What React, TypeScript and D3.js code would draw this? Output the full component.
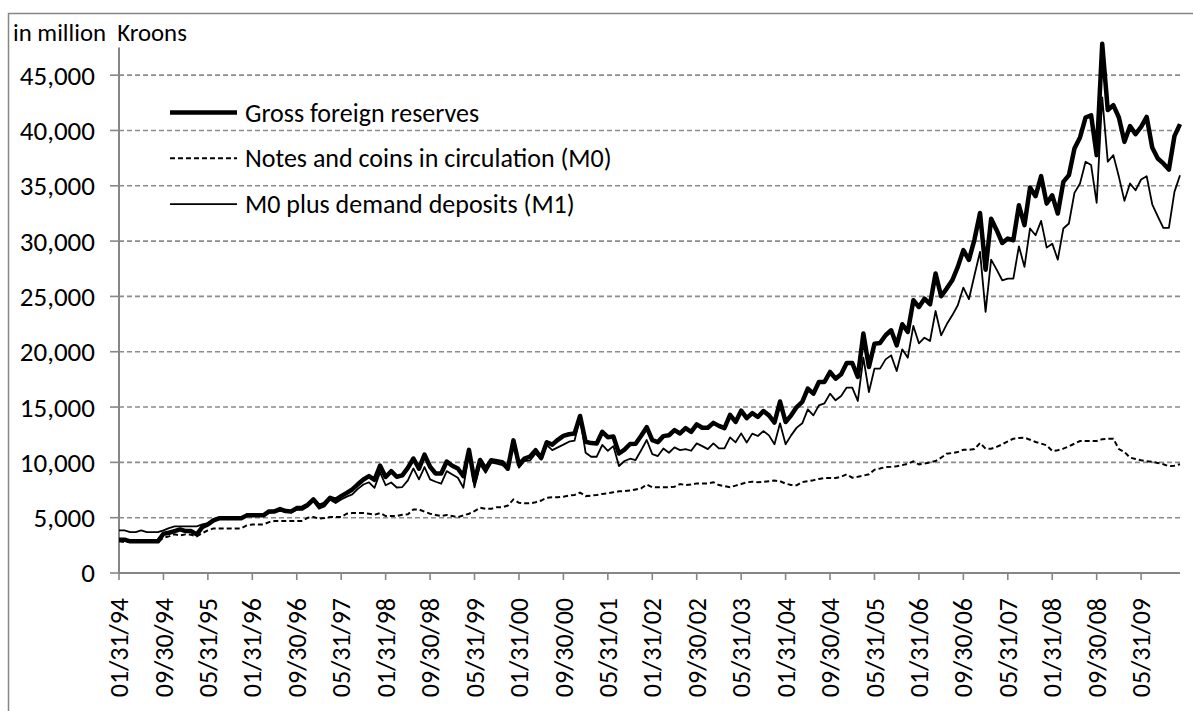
import * as d3 from 'd3';

// monthly, end of month, 01/1994 .. 12/2009 (million kroons)
const grossReserves = [
  3010, 3010, 2860, 2860, 2860, 2860, 2860, 2860, 3550, 3640, 3790, 3940,
  3790, 3790, 3490, 4150, 4390, 4750, 4940, 4940, 4940, 4940, 4940, 5210,
  5210, 5210, 5210, 5570, 5570, 5780, 5600, 5570, 5870, 5900, 6170, 6650,
  6050, 6260, 6800, 6620, 6950, 7240, 7550, 8020, 8450, 8760, 8420, 9700,
  8680, 9200, 8700, 8830, 9500, 10350, 9430, 10700, 9600, 9000, 9000, 10080,
  9700, 9450, 8750, 11130, 8300, 10220, 9400, 10190, 10110, 10020, 9430, 11990,
  9800, 10340, 10530, 11100, 10400, 11820, 11600, 12040, 12400, 12540, 12600, 14190,
  11860, 11740, 11710, 12760, 12280, 12340, 10800, 11150, 11660, 11680, 12400, 13180,
  12010, 11830, 12370, 12450, 12910, 12610, 13090, 12760, 13440, 13130, 13130, 13570,
  13300, 13090, 14300, 13660, 14670, 14000, 14450, 14100, 14640, 14250, 13600, 15500,
  13650, 14250, 15000, 15460, 16660, 16210, 17270, 17270, 18170, 17570, 17960, 18980,
  18980, 17720, 21640, 18620, 20730, 20790, 21490, 21940, 20580, 22480, 21790, 24650,
  24050, 24800, 24290, 27070, 25020, 25710, 26460, 27670, 29180, 28300, 30140, 32540,
  27420, 32030, 30990, 29830, 30230, 30080, 33240, 31440, 34840, 34060, 35870, 33390,
  34140, 32490, 35350, 35960, 38370, 39370, 41170, 41380, 37770, 47830, 41840, 42290,
  41170, 38970, 40390, 39670, 40330, 41230, 38460, 37470, 37020, 36470, 39490, 40570,
];

const notesCoins = [
  2860, 2800, 2800, 2800, 2800, 2800, 2800, 2800, 3190, 3310, 3490, 3400,
  3490, 3460, 3310, 3610, 3850, 4030, 4030, 4030, 4030, 4030, 4030, 4300,
  4390, 4390, 4390, 4600, 4700, 4700, 4700, 4700, 4700, 4700, 5000, 5060,
  4910, 4970, 5060, 5060, 5060, 5360, 5420, 5420, 5420, 5360, 5270, 5420,
  5150, 5150, 5150, 5270, 5300, 5750, 5750, 5540, 5360, 5250, 5150, 5250,
  5150, 5050, 5200, 5360, 5600, 5900, 5800, 5800, 5950, 5950, 6100, 6650,
  6350, 6300, 6300, 6400, 6550, 6800, 6840, 6840, 6900, 7000, 7050, 7270,
  6950, 7000, 7050, 7150, 7200, 7300, 7380, 7400, 7450, 7550, 7650, 8000,
  7740, 7740, 7740, 7750, 7800, 8040, 7950, 8000, 8100, 8100, 8100, 8200,
  7950, 7850, 7750, 7900, 8040, 8200, 8250, 8200, 8250, 8300, 8350, 8300,
  8080, 7950, 7930, 8230, 8300, 8380, 8500, 8590, 8590, 8590, 8700, 8920,
  8620, 8700, 8800, 8920, 9340, 9450, 9580, 9600, 9640, 9750, 9880, 10090,
  9820, 9900, 10000, 10120, 10420, 10780, 10850, 10930, 11140, 11140, 11200, 11750,
  11240, 11240, 11400, 11630, 11900, 12140, 12200, 12230, 12050, 11840, 11700, 11540,
  11030, 11100, 11240, 11450, 11690, 11930, 11930, 11930, 11930, 12100, 12140, 12140,
  11200, 10940, 10430, 10300, 10190, 10100, 10040, 9950, 9830, 9650, 9700, 9830,
];

const m1 = [
  3850, 3850, 3700, 3700, 3850, 3700, 3700, 3700, 3850, 4060, 4210, 4210,
  4210, 4210, 4210, 4390, 4500, 4750, 4870, 4870, 4870, 4870, 4870, 5150,
  5150, 5150, 5150, 5450, 5500, 5660, 5500, 5450, 5720, 5700, 6020, 6500,
  5810, 6020, 6620, 6320, 6650, 6900, 7100, 7600, 8000, 8200, 7700, 9100,
  7930, 8180, 7730, 7770, 8370, 9450, 8460, 9580, 8460, 8250, 8070, 9210,
  8910, 8610, 7710, 10870, 7750, 9820, 9060, 9970, 9880, 9760, 9360, 11770,
  9520, 10120, 10180, 10800, 10250, 11570, 11110, 11350, 11600, 11870, 11960, 14000,
  10870, 10510, 10510, 11570, 11050, 11470, 9670, 10120, 10330, 10210, 11100, 12020,
  10750, 10570, 11260, 10870, 11350, 11110, 11200, 11050, 11720, 11470, 11200, 11720,
  11260, 11260, 12260, 11810, 12620, 11800, 12600, 12380, 12830, 12440, 11630, 13530,
  11630, 12440, 13140, 13530, 14790, 14250, 15150, 15340, 16210, 15610, 16000, 16760,
  16760, 15550, 19460, 16360, 18470, 18470, 19310, 19670, 18260, 20220, 19460, 22330,
  20760, 21270, 20970, 23680, 21480, 22480, 23290, 24200, 25800, 24750, 26920, 29030,
  23600, 28330, 27420, 26460, 26610, 26610, 29530, 27670, 31140, 30530, 31830, 29410,
  29770, 28330, 31140, 31590, 34360, 35210, 37170, 36870, 33460, 43000, 37170, 37770,
  35810, 33640, 35210, 34600, 35570, 35870, 33330, 32240, 31190, 31190, 34450, 35960,
];

// every 8th month gets a label
const xTickLabels = [
  '01/31/94', '09/30/94', '05/31/95', '01/31/96', '09/30/96', '05/31/97',
  '01/31/98', '09/30/98', '05/31/99', '01/31/00', '09/30/00', '05/31/01',
  '01/31/02', '09/30/02', '05/31/03', '01/31/04', '09/30/04', '05/31/05',
  '01/31/06', '09/30/06', '05/31/07', '01/31/08', '09/30/08', '05/31/09',
];
const tickStep = 8;
const yTicks = [0, 5000, 10000, 15000, 20000, 25000, 30000, 35000, 40000, 45000];

const legendItems = [
  { label: 'Gross foreign reserves', width: 4.5, dash: null },
  { label: 'Notes and coins in circulation (M0)', width: 2, dash: '5,3' },
  { label: 'M0 plus demand deposits (M1)', width: 1.8, dash: null },
];

const FONT = 'Carlito, Lato, sans-serif';
const AXIS = '#868686';

export default function App() {
  const width = 1193;
  const height = 711;
  const left = 119;
  const right = 1180;
  const top = 47.5;
  const bottom = 573;

  const x = d3.scaleLinear().domain([0, grossReserves.length - 1]).range([left, right]);
  const y = d3.scaleLinear().domain([0, 47500]).range([bottom, top]);
  const line = d3.line<number>().x((_, i) => x(i)).y(d => y(d));
  const fmt = d3.format(',');

  return (
    <svg width={width} height={height} style={{ position: 'absolute', left: 0, top: 0, background: '#fff' }}
      fontFamily={FONT}>
      <rect x={8.5} y={13.5} width={width + 10} height={height + 10} fill="none" stroke={AXIS} strokeWidth={1.5} />

      <text x={13} y={41} fontSize={24.8} fill="#000" style={{ whiteSpace: 'pre' }}>{'in million  Kroons'}</text>

      {/* gridlines and y ticks */}
      {yTicks.map(t => (
        <g key={t}>
          {t > 0 && (
            <line x1={left} x2={right} y1={y(t)} y2={y(t)} stroke="#8c8c8c" strokeWidth={1.6} strokeDasharray="5,3" />
          )}
          <line x1={left - 9} x2={left} y1={y(t)} y2={y(t)} stroke={AXIS} strokeWidth={1.6} />
          <text x={95} y={y(t)} dy="0.35em" textAnchor="end" fontSize={27} fill="#000">{fmt(t)}</text>
        </g>
      ))}

      {/* axes */}
      <line x1={left} x2={left} y1={top} y2={bottom} stroke={AXIS} strokeWidth={2} />
      <line x1={left} x2={right} y1={bottom} y2={bottom} stroke={AXIS} strokeWidth={2} />
      {xTickLabels.map((lab, k) => {
        const px = x(k * tickStep);
        return (
          <g key={lab}>
            <line x1={px} x2={px} y1={bottom} y2={bottom + 7} stroke={AXIS} strokeWidth={1.6} />
            <text transform={`translate(${px},598) rotate(-90)`} dy="0.35em" textAnchor="end" fontSize={26} fill="#000">{lab}</text>
          </g>
        );
      })}

      {/* series */}
      <path d={line(notesCoins) ?? ''} fill="none" stroke="#000" strokeWidth={2} strokeDasharray="5,3" />
      <path d={line(grossReserves) ?? ''} fill="none" stroke="#000" strokeWidth={4.5} strokeLinejoin="round" />
      <path d={line(m1) ?? ''} fill="none" stroke="#000" strokeWidth={1.8} strokeLinejoin="round" />

      {/* legend */}
      {legendItems.map((it, k) => {
        const ly = 112.5 + k * 45.8;
        return (
          <g key={it.label}>
            <line x1={170} x2={237} y1={ly} y2={ly} stroke="#000" strokeWidth={it.width}
              strokeDasharray={it.dash ?? undefined} />
            <text x={245} y={ly} dy="0.35em" fontSize={26} fill="#000">{it.label}</text>
          </g>
        );
      })}
    </svg>
  );
}
